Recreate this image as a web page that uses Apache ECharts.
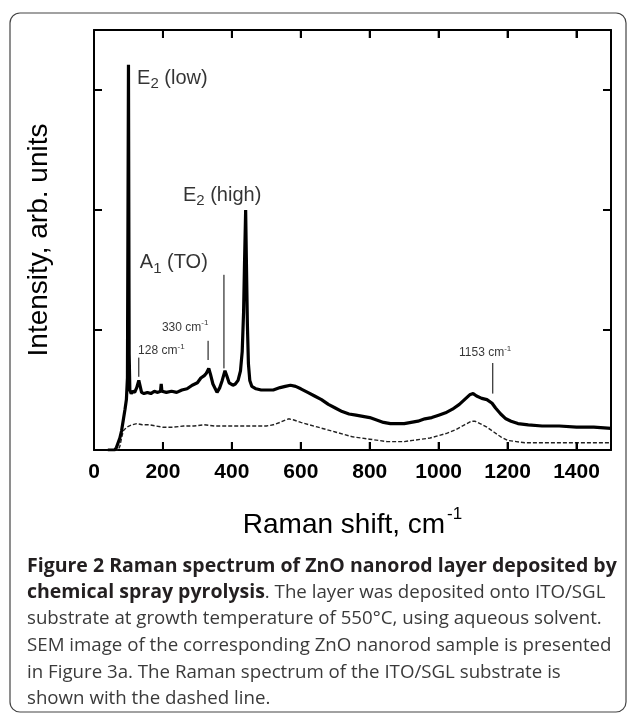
<!DOCTYPE html>
<html><head><meta charset="utf-8">
<script src="https://cdn.jsdelivr.net/npm/echarts@6/dist/echarts.min.js"></script>
<style>html,body{margin:0;padding:0;background:#fff}#c{width:629px;height:715px}</style>
</head><body><div id="c"></div>
<script>
// ZnO film spectrum (solid)
const filmShift = [40,60,65,70,75,80,85,90,94,97,100,102,104,108,112,118,124,130,134,138,145,155,165,175,185,193,195,197,210,225,240,255,270,285,300,310,320,326,333,338,345,357,365,372,380,385,392,403,410,418,425,430,434,437,440,442,445,448,452,458,470,485,500,520,540,555,570,585,600,620,640,660,680,700,720,740,760,780,800,820,840,860,880,900,920,940,960,980,1000,1020,1040,1060,1075,1090,1100,1110,1125,1140,1155,1165,1180,1195,1210,1230,1260,1300,1350,1400,1450,1500];
const filmIntensity = [0,0,0.02,0.06,0.1,0.16,0.25,0.34,0.42,0.6,3.21,0.8,0.5,0.47,0.49,0.48,0.52,0.58,0.53,0.48,0.47,0.48,0.47,0.49,0.48,0.49,0.55,0.49,0.48,0.49,0.48,0.5,0.51,0.54,0.56,0.6,0.62,0.64,0.68,0.63,0.55,0.48,0.52,0.58,0.66,0.62,0.56,0.54,0.55,0.58,0.66,0.82,1.15,1.6,2.0,1.6,1.05,0.72,0.58,0.53,0.51,0.5,0.5,0.5,0.52,0.53,0.54,0.53,0.51,0.48,0.45,0.42,0.38,0.35,0.32,0.3,0.29,0.28,0.27,0.25,0.23,0.22,0.22,0.22,0.23,0.24,0.26,0.27,0.29,0.31,0.34,0.38,0.42,0.46,0.47,0.45,0.43,0.42,0.39,0.35,0.3,0.26,0.24,0.22,0.21,0.2,0.2,0.19,0.19,0.18];
// ITO/SGL substrate spectrum (dashed)
const substrateShift = [40,70,75,80,85,95,110,125,140,160,180,200,230,260,290,320,350,380,410,440,470,500,520,540,555,565,580,600,625,650,675,700,725,750,775,800,825,850,875,900,925,950,975,1000,1025,1050,1075,1095,1105,1120,1140,1160,1180,1200,1225,1250,1300,1350,1400,1450,1500];
const substrateIntensity = [0,0,0.03,0.1,0.16,0.19,0.21,0.22,0.21,0.21,0.2,0.19,0.19,0.2,0.2,0.21,0.2,0.2,0.2,0.2,0.2,0.2,0.21,0.23,0.25,0.26,0.25,0.23,0.21,0.19,0.17,0.15,0.13,0.11,0.1,0.09,0.08,0.07,0.07,0.07,0.08,0.09,0.1,0.12,0.14,0.17,0.21,0.24,0.24,0.22,0.19,0.15,0.11,0.08,0.07,0.06,0.06,0.06,0.06,0.06,0.06];
// tick labels
const xTicks = [0,200,400,600,800,1000,1200,1400];
// peak marker lines: shift, from, to
const markerShift = [130,331,377,1157];
const markerTop = [0.77,0.91,1.46,0.725];
const markerBottom = [0.61,0.75,0.68,0.47];
// peak labels
const peakLabelText = ['{m|E}{s|2}{m| (low)}','{m|E}{s|2}{m| (high)}','{m|A}{s|1}{m| (TO)}','{n|330 cm}{p|-1}','{n|128 cm}{p|-1}','{n|1153 cm}{p|-1}'];
const peakLabelShift = [125,258,133,197,128,1059];
const peakLabelY = [3.1,2.125,1.56,1.02,0.825,0.81];

const captionLines = [
  '{b|Figure 2 Raman spectrum of ZnO nanorod layer deposited by}',
  '{b|chemical spray pyrolysis}{r|. The layer was deposited onto ITO/SGL}',
  '{r|substrate at growth temperature of 550°C, using aqueous solvent.}',
  '{r|SEM image of the corresponding ZnO nanorod sample is presented}',
  '{r|in Figure 3a. The Raman spectrum of the ITO/SGL substrate is}',
  '{r|shown with the dashed line.}'
];

const X_MIN = 0, X_MAX = 1500, Y_MIN = 0, Y_MAX = 3.5;
const zip = (a,b)=>a.map((v,i)=>[v,b[i]]);
const F = 'Liberation Sans, Arial, sans-serif';
const richLbl = {
  m:{fontSize:20,fontFamily:F,color:'#000',padding:[0,0,0,0]},
  s:{fontSize:15,fontFamily:F,color:'#000',padding:[12,0,0,0]},
  n:{fontSize:12,fontFamily:F,color:'#000'},
  p:{fontSize:8,fontFamily:F,color:'#000',padding:[0,0,9,0]}
};
const series = [
  {type:'line',data:zip(filmShift,filmIntensity),symbol:'none',lineStyle:{color:'#000',width:3.2},z:3,animation:false},
  {type:'line',data:zip(substrateShift,substrateIntensity),symbol:'none',lineStyle:{color:'#222',width:1.4,type:[4,2]},z:2,animation:false}
];
markerShift.forEach((x,i)=>{
  series.push({type:'line',data:[[x,markerTop[i]],[x,markerBottom[i]]],symbol:'none',lineStyle:{color:'#000',width:1},animation:false,silent:true});
});
series.push({type:'scatter',symbolSize:0,animation:false,silent:true,
  data:peakLabelShift.map((x,i)=>({value:[x,peakLabelY[i]],label:{show:true,position:'inside',align:'left',verticalAlign:'middle',formatter:peakLabelText[i],rich:richLbl}}))});

const chart = echarts.init(document.getElementById('c'),null,{renderer:'canvas'});
const axLine = ()=>({show:true,onZero:false,lineStyle:{color:'#000',width:2}});
const tick = ()=>({show:true,inside:true,length:8,lineStyle:{color:'#000',width:2}});
const frameAndCaption = [
  {id:'frame',type:'rect',shape:{x:10,y:13,width:616,height:699,r:10},style:{fill:'none',stroke:'#444',lineWidth:1.2},silent:true},
  ...captionLines.map((t,i)=>({id:'cap'+i,type:'text',left:27,top:556+i*26.7,silent:true,
    style:{text:t,rich:{b:{fontSize:19.5,fontWeight:'bold',fontFamily:'Open Sans',fill:'#231f20'},r:{fontSize:18.7,fontFamily:'Open Sans',fill:'#3a3a3a'}}}}))
];
chart.setOption({
  animation:false,
  grid:{left:94,right:18,top:30,bottom:265},
  xAxis:[
    {type:'value',min:X_MIN,max:X_MAX,interval:200,position:'bottom',
     axisLine:axLine(),
     axisTick:tick(),
     axisLabel:{show:true,showMaxLabel:false,margin:12,fontSize:21,fontWeight:'bold',fontFamily:F,color:'#000',
       formatter:v=>xTicks.indexOf(v)>=0?String(v):''},
     splitLine:{show:false},
     name:'{t|Raman shift, cm}{u|-1}',nameLocation:'middle',nameGap:56,
     nameTextStyle:{rich:{t:{fontSize:28,fontFamily:F,color:'#000'},u:{fontSize:17,fontFamily:F,color:'#000',padding:[0,0,22,2]}}}},
    {type:'value',min:X_MIN,max:X_MAX,interval:200,position:'top',
     axisLine:axLine(),
     axisTick:tick(),
     axisLabel:{show:false},splitLine:{show:false}}
  ],
  yAxis:[
    {type:'value',min:Y_MIN,max:Y_MAX,interval:1,position:'left',
     axisLine:axLine(),
     axisTick:tick(),
     axisLabel:{show:false},splitLine:{show:false},
     name:'Intensity, arb. units',nameLocation:'middle',nameGap:41,
     nameTextStyle:{fontSize:28,fontFamily:F,color:'#000'}},
    {type:'value',min:Y_MIN,max:Y_MAX,interval:1,position:'right',
     axisLine:axLine(),
     axisTick:tick(),
     axisLabel:{show:false},splitLine:{show:false}}
  ],
  series:series,
  graphic:frameAndCaption
});
// inward x ticks on bottom and top edges, placed through the axis scales
const tickMarks = [];
xTicks.filter(v=>v>X_MIN).forEach((v,i)=>{
  const b = chart.convertToPixel({xAxisIndex:0,yAxisIndex:0},[v,Y_MIN]);
  const t = chart.convertToPixel({xAxisIndex:0,yAxisIndex:0},[v,Y_MAX]);
  tickMarks.push({id:'tb'+i,type:'rect',shape:{x:b[0]-1,y:b[1]-8,width:2,height:8},style:{fill:'#000'},silent:true,z:100});
  tickMarks.push({id:'tt'+i,type:'rect',shape:{x:t[0]-1,y:t[1],width:2,height:8},style:{fill:'#000'},silent:true,z:100});
});
chart.setOption({graphic:frameAndCaption.concat(tickMarks)});
</script></body></html>
